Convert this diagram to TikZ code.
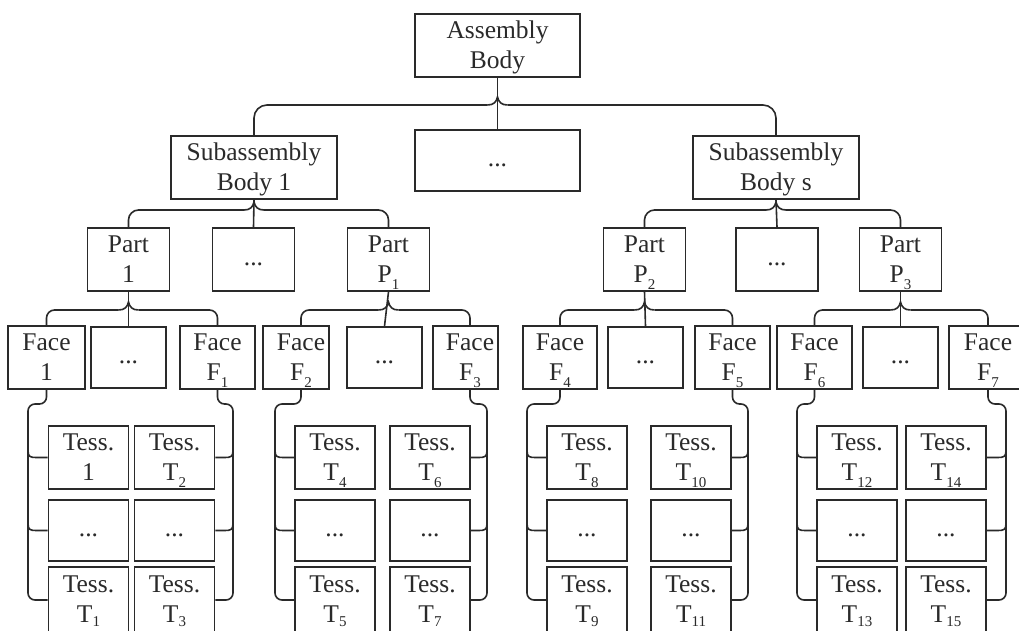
\documentclass[tikz,border=0pt]{standalone}
\usepackage{fontspec}
\setmainfont{Liberation Serif}
\usetikzlibrary{calc}
\definecolor{ink}{HTML}{2A2A2A}
% lowered index after a letter (P1, F2, T10 ...)
\newcommand\sub[1]{\smash{\raisebox{-7pt}{\fontsize{15}{15}\selectfont #1}}}
\newcommand\subb[1]{\smash{\raisebox{-4pt}{\fontsize{15}{15}\selectfont #1}}}
% two-line and placeholder labels with fixed line metrics
\newcommand\tx[2]{\rule{0pt}{24pt}#1\\#2\strut}
\newcommand\etc{\raisebox{-6pt}[0pt][0pt]{...}}
% horizontal bracket joining one parent to three children
\newcommand\branch[6]{% parent, left, middle, right, level, corner radius
  \coordinate (cusp) at (#1.south |- 0,#5);
  \draw[wire, rounded corners=#6] (#2) -- (#2 |- cusp) -- ([xshift=-10pt]cusp);
  \draw[wire, rounded corners=#6] (#4) -- (#4 |- cusp) -- ([xshift=10pt]cusp);
  \draw[wire] ([xshift=-10pt]cusp) .. controls ([xshift=-4pt]cusp) and ([xshift=-1pt,yshift=3pt]cusp) .. ([yshift=8pt]cusp)
              .. controls ([xshift=1pt,yshift=3pt]cusp) and ([xshift=4pt]cusp) .. ([xshift=10pt]cusp);
  \draw[wire] (#1.south) -- (#3.north);
}
% vertical rail from a face down along one column of tessellations
\newcommand\rail[7]{% start, rail x, row1 anchor, row2 anchor, row3 anchor, side (+1/-1), radius
  \coordinate (rl) at (#2,404);
  \draw[wire, rounded corners=#7] (#1) -- (#1 |- rl) -- (rl) -- (rl |- #5) -- (#5);
  \tap{rl}{#3}{#6}
  \tap{rl}{#4}{#6}
}
\newcommand\tap[3]{%
  \coordinate (tp) at (#1 |- #2);
  \draw[wire] ([yshift=7pt]tp) .. controls ([yshift=1pt]tp) and ([xshift=#3*2pt]tp) .. ([xshift=#3*8pt]tp) -- (#2);
}
\tikzset{
  wire/.style={draw=ink, line width=1.6pt},
  bx/.style={draw=ink, line width=1.6pt, inner sep=0pt, align=center, text=ink,
    font=\fontsize{25.5}{30}\selectfont},
  part/.style={bx, minimum width=82pt, minimum height=63pt},
  face/.style={bx, minimum height=61pt},
  tess/.style={bx, minimum width=80pt, minimum height=61pt},
  tesslow/.style={bx, minimum width=80pt, minimum height=66pt},
}
\begin{document}
\begin{tikzpicture}[x=1pt, y=-1pt]
\clip (0,0) rectangle (1019,630);
\fill[white] (0,0) rectangle (1019,630);

% top levels
\node[bx, minimum width=165pt, minimum height=63pt] (AB) at (497.5,45.5) {\tx{Assembly}{Body}};
\node[bx, minimum width=165pt, minimum height=61pt] (M0) at (497.5,160.5) {\etc};
\node[bx, minimum width=166pt, minimum height=61pt] (S1) at (254,167.5) {\tx{Subassembly}{Body 1}};
\node[bx, minimum width=166pt, minimum height=61pt] (Ss) at (776,167.5) {\tx{Subassembly}{Body s}};

% parts
\node[part] (Pa)  at (128.5,259.5) {\tx{Part}{1}};
\node[part] (Pd1) at (253.5,259.5) {\etc};
\node[part] (PP1) at (388.5,259.5) {\tx{Part}{P\sub{1}}};
\node[part] (PP2) at (644.5,259.5) {\tx{Part}{P\sub{2}}};
\node[part] (Pd2) at (777,259.5) {\etc};
\node[part] (PP3) at (900.5,259.5) {\tx{Part}{P\sub{3}}};

% faces
\node[face, minimum width=77pt] (Fa)  at (46.5,357.5) {\tx{Face}{1}};
\node[face, minimum width=75pt] (Fd1) at (128.5,357.5) {\etc};
\node[face, minimum width=75pt] (FF1) at (217.5,357.5) {\tx{Face}{F\sub{1}}};
\node[face, minimum width=66pt] (FF2) at (296,357.5) {\tx{\hspace{10pt}Face}{\hspace{10pt}F\sub{2}}};
\node[face, minimum width=75pt] (Fd2) at (384.5,357.5) {\etc};
\node[face, minimum width=65pt] (FF3) at (465.5,357.5) {\tx{\hspace{9pt}Face}{\hspace{9pt}F\sub{3}}};
\node[face, minimum width=74pt] (FF4) at (560,357.5) {\tx{Face}{F\sub{4}}};
\node[face, minimum width=75pt] (Fd3) at (645.5,357.5) {\etc};
\node[face, minimum width=75pt] (FF5) at (732.5,357.5) {\tx{Face}{F\sub{5}}};
\node[face, minimum width=75pt] (FF6) at (814.5,357.5) {\tx{Face}{F\sub{6}}};
\node[face, minimum width=75pt] (Fd4) at (900.5,357.5) {\etc};
\node[face, minimum width=78pt] (FF7) at (988,357.5) {\tx{Face}{F\sub{7}}};

% tessellations
\node[tess]    (A11) at (88.5,457.5)  {\tx{Tess.}{1}};
\node[tess]    (B11) at (174.5,457.5) {\tx{Tess.}{T\sub{2}}};
\node[tess]    (A12) at (88.5,530.5)  {\etc};
\node[tess]    (B12) at (174.5,530.5) {\etc};
\node[tesslow] (A13) at (88.5,600)    {\tx{Tess.}{T\subb{1}}};
\node[tesslow] (B13) at (174.5,600)   {\tx{Tess.}{T\subb{3}}};

\node[tess]    (A21) at (335,457.5) {\tx{Tess.}{T\sub{4}}};
\node[tess]    (B21) at (430,457.5) {\tx{Tess.}{T\sub{6}}};
\node[tess]    (A22) at (335,530.5) {\etc};
\node[tess]    (B22) at (430,530.5) {\etc};
\node[tesslow] (A23) at (335,600)   {\tx{Tess.}{T\subb{5}}};
\node[tesslow] (B23) at (430,600)   {\tx{Tess.}{T\subb{7}}};

\node[tess]    (A31) at (587,457.5) {\tx{Tess.}{T\sub{8}}};
\node[tess]    (B31) at (691,457.5) {\tx{Tess.}{T\sub{10}}};
\node[tess]    (A32) at (587,530.5) {\etc};
\node[tess]    (B32) at (691,530.5) {\etc};
\node[tesslow] (A33) at (587,600)   {\tx{Tess.}{T\subb{9}}};
\node[tesslow] (B33) at (691,600)   {\tx{Tess.}{T\subb{11}}};

\node[tess]    (A41) at (857,457.5) {\tx{Tess.}{T\sub{12}}};
\node[tess]    (B41) at (946,457.5) {\tx{Tess.}{T\sub{14}}};
\node[tess]    (A42) at (857,530.5) {\etc};
\node[tess]    (B42) at (946,530.5) {\etc};
\node[tesslow] (A43) at (857,600)   {\tx{Tess.}{T\subb{13}}};
\node[tesslow] (B43) at (946,600)   {\tx{Tess.}{T\subb{15}}};

% connection points on the faces of the second part
\coordinate (FF2t) at ([xshift=5pt]FF2.north);
\coordinate (FF2b) at ([xshift=5pt]FF2.south);
\coordinate (FF3t) at ([xshift=4.5pt]FF3.north);
\coordinate (FF3b) at ([xshift=4.5pt]FF3.south);

% hierarchy brackets
\branch{AB}{S1.north}{M0}{Ss.north}{105}{13pt}
\branch{S1}{Pa.north}{Pd1}{PP1.north}{210}{10pt}
\branch{Ss}{PP2.north}{Pd2}{PP3.north}{210}{10pt}
\branch{Pa}{Fa.north}{Fd1}{FF1.north}{310}{8pt}
\branch{PP1}{FF2t}{Fd2}{FF3t}{310}{8pt}
\branch{PP2}{FF4.north}{Fd3}{FF5.north}{310}{8pt}
\branch{PP3}{FF6.north}{Fd4}{FF7.north}{310}{8pt}

% face-to-tessellation rails
\rail{Fa.south}{28}{A11.west}{A12.west}{A13.west}{1}{7pt}
\rail{FF1.south}{233}{B11.east}{B12.east}{B13.east}{-1}{7pt}
\rail{FF2b}{275}{A21.west}{A22.west}{A23.west}{1}{7pt}
\rail{FF3b}{487}{B21.east}{B22.east}{B23.east}{-1}{7pt}
\rail{FF4.south}{527}{A31.west}{A32.west}{A33.west}{1}{7pt}
\rail{FF5.south}{748}{B31.east}{B32.east}{B33.east}{-1}{7pt}
\rail{FF6.south}{797}{A41.west}{A42.west}{A43.west}{1}{7pt}
\rail{FF7.south}{1006}{B41.east}{B42.east}{B43.east}{-1}{7pt}
\end{tikzpicture}
\end{document}
